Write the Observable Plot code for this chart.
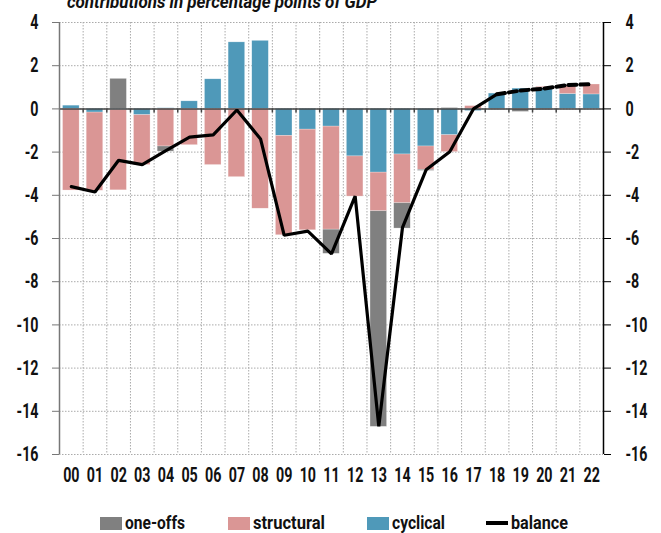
<!DOCTYPE html>
<html>
<head>
<meta charset="utf-8">
<script src="https://cdn.jsdelivr.net/npm/d3@7"></script>
<script src="https://cdn.jsdelivr.net/npm/@observablehq/plot@0.6"></script>
<style>
  html, body { margin: 0; padding: 0; background: #fff; }
  #wrap { position: relative; width: 661px; height: 533px; overflow: hidden;
          font-family: Roboto, "Liberation Sans", sans-serif; }
  #title { position: absolute; left: 67px; top: -7px; font-size: 18px; font-style: italic; font-weight: bold;
           line-height: 1; white-space: nowrap; color: #111; transform-origin: 0 0; }
  #chart { position: absolute; left: 0; top: 0; }
  .sw { position: absolute; top: 517px; width: 22px; height: 13px; }
  .ln { position: absolute; top: 521px; width: 22px; height: 4px; background: #000; }
  .lab { position: absolute; top: 513px; font-size: 19px; font-weight: bold; line-height: 1;
         white-space: nowrap; color: #111; transform-origin: 0 0; }
</style>
</head>
<body>
<div id="wrap">
  <div id="chart"></div>
  <div id="title">contributions in percentage points of GDP</div>
</div>
<script>
const years = ["00","01","02","03","04","05","06","07","08","09","10","11","12","13","14","15","16","17","18","19","20","21","22"];
const cyclical   = [0.15,-0.17,-0.05,-0.29,0.03,0.35,1.37,3.08,3.15,-1.25,-0.96,-0.82,-2.2,-2.95,-2.11,-1.74,-1.22,-0.1,0.71,0.94,0.97,0.69,0.67];
const structural = [-3.78,-3.62,-3.72,-2.31,-1.74,-1.68,-2.6,-3.16,-4.62,-4.6,-4.66,-4.77,-1.86,-1.79,-2.26,-1.08,-0.78,0.13,0.0,0.0,0.05,0.4,0.46];
const oneOffs    = [0,0,1.39,0,-0.24,0,0,0,0,0,0,-1.12,0,-9.98,-1.17,-0.05,0.04,0,-0.04,-0.14,-0.05,0,0];
const balance    = [-3.6,-3.85,-2.38,-2.58,-1.93,-1.31,-1.2,-0.05,-1.39,-5.85,-5.66,-6.71,-4.04,-14.7,-5.5,-2.82,-1.98,0.0,0.68,0.85,0.94,1.11,1.14];
const forecastFrom = "18";
const seriesNames = ["one-offs","structural","cyclical"];
const seriesColors = ["#808080","#da9695","#4f99b9"];
const yTicks = [4,2,0,-2,-4,-6,-8,-10,-12,-14,-16];

const W = 661, H = 490, mL = 59, mR = 58, mT = 22, mB = 36;
const step = (W - mL - mR) / years.length;

const comp = [];
years.forEach((yr, i) => {
  comp.push({year: yr, series: "cyclical", value: cyclical[i]});
  comp.push({year: yr, series: "structural", value: structural[i]});
  comp.push({year: yr, series: "one-offs", value: oneOffs[i]});
});
const bal = years.map((yr, i) => ({year: yr, value: balance[i]}));
const fi = years.indexOf(forecastFrom);
const balSolid = bal.slice(0, fi + 1);
const balDash = bal.slice(fi);

const font = {fontSize: 21, fontWeight: "bold", fill: "#111"};

const chart = Plot.plot({
  width: W, height: H, marginLeft: mL, marginRight: mR, marginTop: mT, marginBottom: mB,
  style: {fontFamily: 'Roboto, "Liberation Sans", sans-serif', background: "#fff", overflow: "visible"},
  x: {domain: years, paddingInner: 0.3, paddingOuter: 0.15, round: false, axis: null},
  y: {domain: [-16, 4], axis: null},
  color: {domain: seriesNames, range: seriesColors},
  marks: [
    Plot.gridY(yTicks, {stroke: "#aaa", strokeOpacity: 1, strokeDasharray: "1.5,1.5"}),
    Plot.ruleX(years.slice(1), {x: d => d, dx: -step / 2, stroke: "#aaa", strokeDasharray: "1.5,1.5"}),
    Plot.barY(comp, {x: "year", y: "value", fill: "series", order: ["cyclical","structural","one-offs"], stroke: "#fff", strokeWidth: 0.5, strokeOpacity: 0.5}),
    Plot.ruleY([0], {stroke: "#444", strokeWidth: 1.5}),
    Plot.ruleX(years.slice(1), {x: d => d, dx: -step / 2, y1: 0, y2: 0, insetBottom: -4, stroke: "#444", strokeWidth: 1.5}),
    Plot.ruleX([years[0]], {x: d => d, dx: -step / 2, stroke: "#777", strokeWidth: 1.5}),
    Plot.ruleX([years[years.length - 1]], {x: d => d, dx: step / 2, stroke: "#000", strokeWidth: 1.5}),
    Plot.axisX({anchor: "bottom", tickSize: 0, tickPadding: 13, label: null, ...font}),
    Plot.axisY(yTicks, {anchor: "left", tickSize: 7, tickPadding: 14, label: null, tickFormat: d => String(d), stroke: "#777", ...font}),
    Plot.axisY(yTicks, {anchor: "right", tickSize: 7, tickPadding: 15, label: null, tickFormat: d => String(d), stroke: "#000", ...font}),
    Plot.line(balSolid, {x: "year", y: "value", stroke: "#000", strokeWidth: 3.2, strokeLinejoin: "miter"}),
    Plot.line(balDash, {x: "year", y: "value", stroke: "#000", strokeWidth: 4, strokeDasharray: "8,4"})
  ]
});
document.getElementById("chart").appendChild(chart);

// condense axis tick labels horizontally (the reference uses a narrow typeface)
const squeeze = 0.68;
chart.querySelectorAll('g[aria-label$="tick label"] text').forEach(t => {
  const x = +(t.getAttribute("x") || 0);
  const tr = t.getAttribute("transform") || "";
  t.setAttribute("transform", `${tr} translate(${x},0) scale(${squeeze},1) translate(${-x},0)`);
});

function fit(el, target) {
  const w = el.getBoundingClientRect().width;
  el.style.transform = `scaleX(${target / w})`;
}
fit(document.getElementById("title"), 310);

const wrap = document.getElementById("wrap");
const legendItems = [
  {label: "one-offs", color: seriesColors[0], left: 100, type: "sw", w: 60},
  {label: "structural", color: seriesColors[1], left: 228, type: "sw", w: 72},
  {label: "cyclical", color: seriesColors[2], left: 367, type: "sw", w: 53},
  {label: "balance", color: "#000", left: 486, type: "ln", w: 57}
];
legendItems.forEach(it => {
  const s = document.createElement("div");
  s.className = it.type;
  s.style.left = it.left + "px";
  s.style.background = it.color;
  wrap.appendChild(s);
  const l = document.createElement("div");
  l.className = "lab";
  l.style.left = (it.left + 25) + "px";
  l.textContent = it.label;
  wrap.appendChild(l);
  fit(l, it.w);
});
</script>
</body>
</html>
